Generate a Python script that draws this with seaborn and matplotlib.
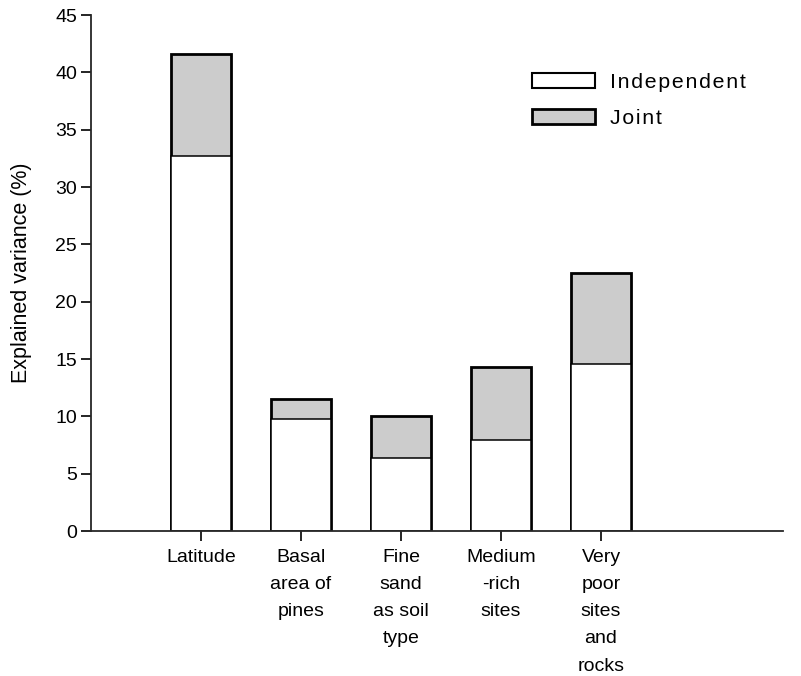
import matplotlib
matplotlib.use("Agg")
import matplotlib.pyplot as plt
from matplotlib.patches import Patch
import seaborn as sns
import pandas as pd

categories = ["Latitude", "Basal\narea of\npines", "Fine\nsand\nas soil\ntype",
              "Medium\n-rich\nsites", "Very\npoor\nsites\nand\nrocks"]
independent = [32.7, 9.8, 6.4, 7.9, 14.6]
joint = [8.9, 1.7, 3.6, 6.4, 7.9]
y_ticks = [0, 5, 10, 15, 20, 25, 30, 35, 40, 45]
series_names = ["Independent", "Joint"]


def spaced(word):
    # slightly tracked legend text
    return "\u200a".join(word)


sns.set_style("ticks")
plt.rcParams["font.family"] = ["Liberation Sans", "DejaVu Sans"]
plt.rcParams["font.size"] = 14
plt.rcParams["text.color"] = "black"

df = pd.DataFrame({
    "factor": categories,
    "independent": independent,
    "total": [a + b for a, b in zip(independent, joint)],
})

fig = plt.figure(figsize=(8.01, 6.76), dpi=100)
ax = fig.add_axes([91 / 801, (676 - 531) / 676, (783 - 91) / 801, 516 / 676])

# total height drawn in grey, then the independent part in white over it
sns.barplot(data=df, x="factor", y="total", color="#cccccc", width=0.6,
            edgecolor="black", linewidth=2.0, saturation=1, ax=ax)
sns.barplot(data=df, x="factor", y="independent", color="white", width=0.6,
            edgecolor="black", linewidth=1.1, saturation=1, ax=ax)

ax.set_xlim(-1.1, 5.82)
ax.set_ylim(0, 45)
ax.set_yticks(y_ticks)
ax.set_xlabel("")
ax.set_ylabel("Explained variance (%)", fontsize=15.5, labelpad=17, color="black")
sns.despine(ax=ax)
for sp in ("left", "bottom"):
    ax.spines[sp].set_linewidth(1.3)
ax.tick_params(axis="both", direction="out", length=7, width=1.2, colors="black",
               labelsize=14)
ax.tick_params(axis="y", pad=3)
ax.tick_params(axis="x", pad=6)
for lab in ax.get_xticklabels():
    lab.set_linespacing(1.78)
    lab.set_verticalalignment("top")

handles = [Patch(facecolor="white", edgecolor="black", linewidth=1.5,
                 label=spaced(series_names[0])),
           Patch(facecolor="#cccccc", edgecolor="black", linewidth=2.0,
                 label=spaced(series_names[1]))]
leg = ax.legend(handles=handles, loc="upper left",
                bbox_to_anchor=(513 / 801, (676 - 54) / 676), bbox_transform=fig.transFigure,
                frameon=False, handlelength=2.95, handleheight=0.7, labelspacing=0.78,
                handletextpad=0.7, fontsize=15.3)
for t in leg.get_texts():
    t.set_color("black")

fig.savefig("out.png", dpi=100)
